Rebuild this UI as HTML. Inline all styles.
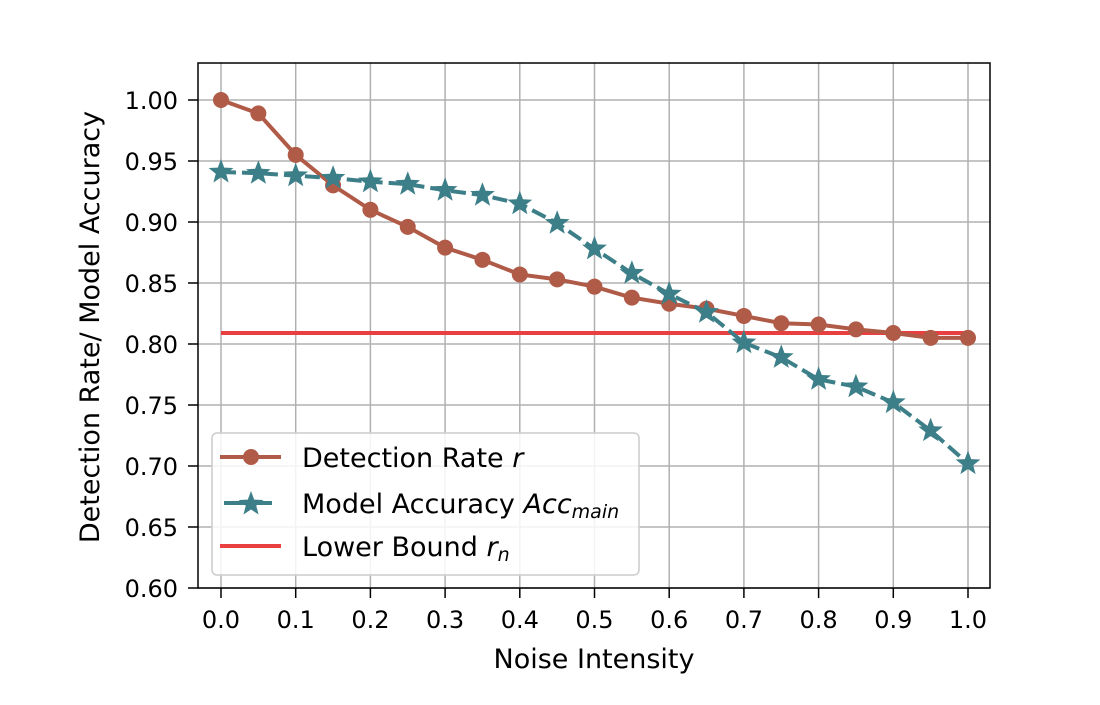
<!DOCTYPE html>
<html><head><meta charset="utf-8"><style>
body{margin:0;background:#fff;}
svg text{font-family:"DejaVu Sans","Liberation Sans",sans-serif;fill:#000;}
</style></head><body>
<svg id="chart" width="1100" height="700" xmlns="http://www.w3.org/2000/svg">
<rect width="1100" height="700" fill="#fff"/>
<g id="grid"></g>
<g id="series"></g>
<rect x="198" y="63" width="792" height="525" fill="none" stroke="#000" stroke-width="1.5"/>
<g id="ticks"></g>
<text x="594" y="668" font-size="27" text-anchor="middle">Noise Intensity</text>
<text transform="translate(99,327) rotate(-90)" font-size="27" text-anchor="middle">Detection Rate/ Model Accuracy</text>
<g>
<rect x="212" y="433" width="427" height="142" rx="5" fill="#fff" fill-opacity="0.85" stroke="#ccc" stroke-width="1.5"/>
<g>
<line x1="220" y1="457" x2="281" y2="457" stroke="#b05a48" stroke-width="4"/>
<circle cx="251" cy="457" r="8" fill="#b05a48"/>
<text x="302" y="467" font-size="27">Detection Rate <tspan font-style="italic">r</tspan></text>
</g>
<g>
<line x1="224" y1="503" x2="272" y2="503" stroke="#3d7f88" stroke-width="4"/>
<polygon id="legstar" fill="#3d7f88"/>
<text x="302" y="513" font-size="27">Model Accuracy <tspan font-style="italic">Acc</tspan><tspan font-style="italic" font-size="19" dy="5">main</tspan></text>
</g>
<g>
<line x1="220" y1="546" x2="281" y2="546" stroke="#e84040" stroke-width="4"/>
<text x="302" y="556" font-size="27">Lower Bound <tspan font-style="italic">r</tspan><tspan font-style="italic" font-size="19" dy="5">n</tspan></text>
</g>
</g>
</svg>
<script>
const xValues=[0,0.05,0.1,0.15,0.2,0.25,0.3,0.35,0.4,0.45,0.5,0.55,0.6,0.65,0.7,0.75,0.8,0.85,0.9,0.95,1.0];
const detectionRate=[1.0,0.989,0.955,0.930,0.910,0.896,0.879,0.869,0.857,0.853,0.847,0.838,0.833,0.829,0.823,0.817,0.816,0.812,0.809,0.805,0.805];
const modelAccuracy=[0.941,0.940,0.938,0.936,0.933,0.931,0.926,0.922,0.915,0.899,0.878,0.858,0.841,0.826,0.801,0.789,0.771,0.765,0.752,0.729,0.702];
const lowerBound=[0.809];
const xTicks=[0,0.1,0.2,0.3,0.4,0.5,0.6,0.7,0.8,0.9,1.0];
const xTickLabels=["0.0","0.1","0.2","0.3","0.4","0.5","0.6","0.7","0.8","0.9","1.0"];
const yTicks=[0.60,0.65,0.70,0.75,0.80,0.85,0.90,0.95,1.00];
const yTickLabels=["0.60","0.65","0.70","0.75","0.80","0.85","0.90","0.95","1.00"];
const NS="http://www.w3.org/2000/svg";
const sx=v=>221+v*747;
const sy=v=>588-(v-0.6)/0.4*488;
function mk(tag,attrs,parent){const e=document.createElementNS(NS,tag);for(const k in attrs)e.setAttribute(k,attrs[k]);parent.appendChild(e);return e;}
const grid=document.getElementById('grid'),ticks=document.getElementById('ticks'),ser=document.getElementById('series');
xTicks.forEach((t,i)=>{
 const g=mk('line',{x1:sx(t),x2:sx(t),y1:63,y2:588,stroke:'#b0b0b0','stroke-width':1.5},grid);
 
 
 mk('line',{x1:sx(t),x2:sx(t),y1:588,y2:598,stroke:'#000','stroke-width':1.5},ticks);
 const tx=mk('text',{x:sx(t),y:628,'font-size':24,'text-anchor':'middle'},ticks);
 tx.textContent=xTickLabels[i];
 
 
});
yTicks.forEach((t,i)=>{
 const g=mk('line',{x1:198,x2:990,y1:sy(t),y2:sy(t),stroke:'#b0b0b0','stroke-width':1.5},grid);
 
 
 mk('line',{x1:188,x2:198,y1:sy(t),y2:sy(t),stroke:'#000','stroke-width':1.5},ticks);
 const tx=mk('text',{x:178,y:sy(t)+9,'font-size':24,'text-anchor':'end'},ticks);
 tx.textContent=yTickLabels[i];
 
 
});
const lb=mk('line',{x1:sx(xValues[0]),x2:sx(xValues[xValues.length-1]),y1:sy(lowerBound[0]),y2:sy(lowerBound[0]),stroke:'#e84040','stroke-width':4},ser);


const dl=mk('polyline',{points:xValues.map((x,i)=>sx(x)+','+sy(detectionRate[i])).join(' '),fill:'none',stroke:'#b05a48','stroke-width':4},ser);


xValues.forEach((x,i)=>{
 const c=mk('circle',{cx:sx(x),cy:sy(detectionRate[i]),r:8,fill:'#b05a48'},ser);
 
 
});
const al=mk('polyline',{points:xValues.map((x,i)=>sx(x)+','+sy(modelAccuracy[i])).join(' '),fill:'none',stroke:'#3d7f88','stroke-width':4,'stroke-dasharray':'15,6'},ser);


function star(cx,cy,R){const r=R*0.42;let p=[];for(let k=0;k<10;k++){const a=-Math.PI/2+k*Math.PI/5;const rr=k%2?r:R;p.push((cx+rr*Math.cos(a)).toFixed(1)+','+(cy+rr*Math.sin(a)).toFixed(1));}return p.join(' ');}
xValues.forEach((x,i)=>{
 const s=mk('polygon',{points:star(sx(x),sy(modelAccuracy[i]),13),fill:'#3d7f88'},ser);
 
 
});
document.getElementById('legstar').setAttribute('points',star(251,504,13));
</script>
</body></html>
